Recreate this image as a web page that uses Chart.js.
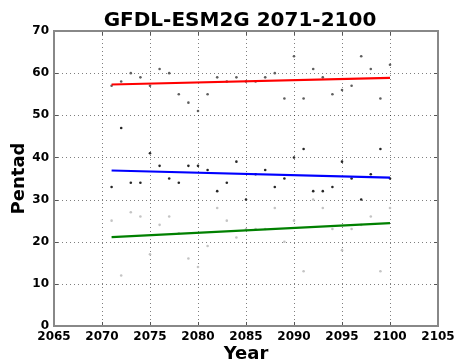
<!DOCTYPE html>
<html>
<head>
<meta charset="utf-8">
<script src="https://cdn.jsdelivr.net/npm/chart.js@4/dist/chart.umd.min.js"></script>
<style>
  html, body { margin: 0; padding: 0; background: #ffffff; }
  #wrap { width: 454px; height: 363px; }
</style>
</head>
<body>
<div id="wrap"><canvas id="chart" width="454" height="363"></canvas></div>
<script>
// Pentad per year, GFDL-ESM2G, 2071-2100
const years = [2071, 2072, 2073, 2074, 2075, 2076, 2077, 2078, 2079, 2080,
               2081, 2082, 2083, 2084, 2085, 2086, 2087, 2088, 2089, 2090,
               2091, 2092, 2093, 2094, 2095, 2096, 2097, 2098, 2099, 2100];
const upperPentad = [57, 58, 60, 59, 57, 61, 60, 55, 53, 51,
                     55, 59, 58, 59, 58, 58, 59, 60, 54, 64,
                     54, 61, 59, 55, 56, 57, 64, 61, 54, 62];
const middlePentad = [33, 47, 34, 34, 41, 38, 35, 34, 38, 38,
                      37, 32, 34, 39, 30, 36, 37, 33, 35, 40,
                      42, 32, 32, 33, 39, 35, 30, 36, 42, 35];
const lowerPentad = [25, 12, 27, 26, 17, 24, 26, 22, 16, 14,
                     19, 28, 25, 21, 23, 23, 23, 28, 20, 25,
                     13, 30, 28, 23, 18, 23, 24, 26, 13, 28];

// Linear trend lines (start and end of the period)
const trendYears = [2071, 2100];
const upperTrend = [57.3, 58.9];
const middleTrend = [36.9, 35.2];
const lowerTrend = [21.1, 24.4];

// Axis ticks
const xTicks = [2065, 2070, 2075, 2080, 2085, 2090, 2095, 2100, 2105];
const yTicks = [0, 10, 20, 30, 40, 50, 60, 70];

const FONT = "'DejaVu Sans', 'Liberation Sans', sans-serif";

function toPoints(xs, ys) {
  return xs.map((x, i) => ({ x: x, y: ys[i] }));
}

// Dotted grid, inward ticks, frame and title
const framePlugin = {
  id: 'frame',
  beforeDatasetsDraw(chart) {
    const { ctx, chartArea: a, scales: { x, y } } = chart;
    ctx.save();
    ctx.strokeStyle = 'rgba(0,0,0,0.5)';
    ctx.lineWidth = 1;
    ctx.setLineDash([1, 3]);
    xTicks.slice(1, -1).forEach(v => {
      const px = Math.round(x.getPixelForValue(v)) + 0.5;
      ctx.beginPath(); ctx.moveTo(px, a.top); ctx.lineTo(px, a.bottom); ctx.stroke();
    });
    yTicks.slice(1, -1).forEach(v => {
      const py = Math.round(y.getPixelForValue(v)) + 0.5;
      ctx.beginPath(); ctx.moveTo(a.left, py); ctx.lineTo(a.right, py); ctx.stroke();
    });
    ctx.restore();
  },
  afterDraw(chart) {
    const { ctx, chartArea: a, scales: { x, y } } = chart;
    ctx.save();
    ctx.strokeStyle = '#555555';
    ctx.lineWidth = 1;
    xTicks.forEach(v => {
      const px = Math.round(x.getPixelForValue(v)) + 0.5;
      ctx.beginPath(); ctx.moveTo(px, a.top); ctx.lineTo(px, a.top + 4); ctx.stroke();
      ctx.beginPath(); ctx.moveTo(px, a.bottom); ctx.lineTo(px, a.bottom - 4); ctx.stroke();
    });
    yTicks.forEach(v => {
      const py = Math.round(y.getPixelForValue(v)) + 0.5;
      ctx.beginPath(); ctx.moveTo(a.left, py); ctx.lineTo(a.left + 4, py); ctx.stroke();
      ctx.beginPath(); ctx.moveTo(a.right, py); ctx.lineTo(a.right - 4, py); ctx.stroke();
    });
    ctx.strokeStyle = '#888888';
    ctx.lineWidth = 2;
    ctx.strokeRect(a.left, a.top, a.right - a.left, a.bottom - a.top);

    ctx.fillStyle = '#000000';
    ctx.font = "bold 20px " + FONT;
    ctx.textAlign = 'center';
    ctx.textBaseline = 'alphabetic';
    ctx.fillText('GFDL-ESM2G 2071-2100', 240, 26);
    ctx.restore();
  }
};

const scatterStyle = (color) => ({
  type: 'scatter',
  pointRadius: 1.3,
  pointHoverRadius: 1.3,
  pointBorderWidth: 0,
  backgroundColor: color,
  borderColor: color,
  order: 2
});

const trendStyle = (color) => ({
  type: 'line',
  borderColor: color,
  borderWidth: 2.2,
  pointRadius: 0,
  fill: false,
  tension: 0,
  order: 1
});

new Chart(document.getElementById('chart'), {
  data: {
    datasets: [
      Object.assign({ label: 'upper', data: toPoints(years, upperPentad) }, scatterStyle('#5e5e5e')),
      Object.assign({ label: 'middle', data: toPoints(years, middlePentad) }, scatterStyle('#262626')),
      Object.assign({ label: 'lower', data: toPoints(years, lowerPentad) }, scatterStyle('#c4c4c4')),
      Object.assign({ label: 'upper trend', data: toPoints(trendYears, upperTrend) }, trendStyle('#ff0000')),
      Object.assign({ label: 'middle trend', data: toPoints(trendYears, middleTrend) }, trendStyle('#0000ff')),
      Object.assign({ label: 'lower trend', data: toPoints(trendYears, lowerTrend) }, trendStyle('#008000'))
    ]
  },
  options: {
    responsive: false,
    devicePixelRatio: 1,
    animation: false,
    layout: { padding: { top: 31, right: 16, bottom: 0, left: 0 } },
    plugins: {
      legend: { display: false },
      title: { display: false },
      tooltip: { enabled: false }
    },
    scales: {
      x: {
        type: 'linear',
        min: 2065,
        max: 2105,
        afterBuildTicks: s => { s.ticks = xTicks.map(v => ({ value: v })); },
        ticks: {
          color: '#000000',
          font: { family: FONT, size: 12, weight: 'bold' },
          padding: 4,
          maxRotation: 0,
          autoSkip: false,
          callback: v => String(v)
        },
        grid: { display: false, drawTicks: false },
        border: { display: false },
        title: {
          display: true,
          text: 'Year',
          color: '#000000',
          font: { family: FONT, size: 18, weight: 'bold', lineHeight: 1 },
          padding: { top: 0, bottom: 0 }
        },
        afterFit: s => { s.height = 37; s.paddingLeft = 0; s.paddingRight = 0; }
      },
      y: {
        type: 'linear',
        min: 0,
        max: 70,
        afterBuildTicks: s => { s.ticks = yTicks.map(v => ({ value: v })); },
        ticks: {
          color: '#000000',
          font: { family: FONT, size: 12, weight: 'bold' },
          padding: 5,
          autoSkip: false
        },
        grid: { display: false, drawTicks: false },
        border: { display: false },
        title: {
          display: true,
          text: 'Pentad',
          color: '#000000',
          font: { family: FONT, size: 18, weight: 'bold', lineHeight: 1 },
          padding: { top: 10, bottom: 0 }
        },
        afterFit: s => { s.width = 54; s.paddingTop = 0; s.paddingBottom = 0; }
      }
    }
  },
  plugins: [framePlugin]
});
</script>
</body>
</html>
